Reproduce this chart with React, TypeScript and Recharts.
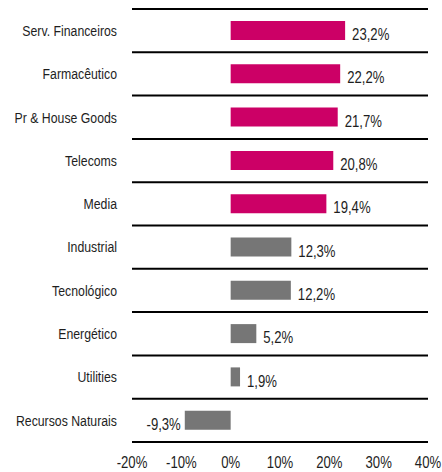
import React from 'react';
import { BarChart, Bar, XAxis, YAxis, CartesianGrid, Cell, LabelList } from 'recharts';

const categories = ['Serv. Financeiros', 'Farmacêutico', 'Pr & House Goods', 'Telecoms', 'Media', 'Industrial', 'Tecnológico', 'Energético', 'Utilities', 'Recursos Naturais'];
const values = [23.2, 22.2, 21.7, 20.8, 19.4, 12.3, 12.2, 5.2, 1.9, -9.3];
const groups = ['top', 'top', 'top', 'top', 'top', 'rest', 'rest', 'rest', 'rest', 'rest'];
const xTicks = [-20, -10, 0, 10, 20, 30, 40];

const groupColors: Record<string, string> = { top: '#CC0066', rest: '#767676' };
const FONT = '"Liberation Sans", Arial, sans-serif';
const NARROW = 'scale(0.82,1)';
const TEXT = '#1e1e1e';

const data = categories.map((name, i) => ({ name, value: values[i], group: groups[i] }));

const fmt = (v: number) => v.toFixed(1).replace('.', ',') + '%';

const ValueLabel = (props: any) => {
  const { x, y, width, height, value } = props;
  const neg = value < 0;
  const left = Math.min(x, x + width);
  const right = Math.max(x, x + width);
  const tx = neg ? left - 4 : right + 7;
  return (
    <g transform={`translate(${tx},${y + height / 2 + 4})`}>
      <text transform={NARROW} dy="0.355em" textAnchor={neg ? 'end' : 'start'} fontSize={16} fontFamily={FONT} fill={TEXT}>
        {fmt(value)}
      </text>
    </g>
  );
};

const YTick = (props: any) => {
  const { x, y, payload } = props;
  return (
    <g transform={`translate(${x},${y})`}>
      <text transform={NARROW} dy="0.355em" textAnchor="end" fontSize={15} fontFamily={FONT} fill={TEXT}>
        {payload.value}
      </text>
    </g>
  );
};

const XTick = (props: any) => {
  const { x, y, payload } = props;
  return (
    <g transform={`translate(${x},${y})`}>
      <text transform={NARROW} dy="0.71em" textAnchor="middle" fontSize={16} fontFamily={FONT} fill={TEXT}>
        {`${payload.value}%`}
      </text>
    </g>
  );
};

export default function App() {
  return (
    <div style={{ position: 'absolute', left: 0, top: 0 }}>
      <BarChart width={442} height={472} data={data} layout="vertical" margin={{ top: 9, right: 14, bottom: 0, left: 10 }} barSize={19}>
        <CartesianGrid
          vertical={false}
          stroke="#000"
          strokeWidth={2}
          horizontalCoordinatesGenerator={(p: any) => {
            const { offset } = p;
            const n = categories.length;
            return Array.from({ length: n + 1 }, (_, i) => offset.top + (i * offset.height) / n);
          }}
        />
        <XAxis
          type="number"
          domain={[-20, 40]}
          ticks={xTicks}
          axisLine={false}
          tickLine={false}
          tickMargin={9}
          height={30}
          interval={0}
          tick={<XTick />}
        />
        <YAxis
          type="category"
          dataKey="name"
          width={122}
          axisLine={false}
          tickLine={false}
          tickMargin={9}
          interval={0}
          tick={<YTick />}
        />
        <Bar dataKey="value" isAnimationActive={false}>
          {data.map((d, i) => (
            <Cell key={i} fill={groupColors[d.group]} />
          ))}
          <LabelList dataKey="value" content={ValueLabel} />
        </Bar>
      </BarChart>
    </div>
  );
}
